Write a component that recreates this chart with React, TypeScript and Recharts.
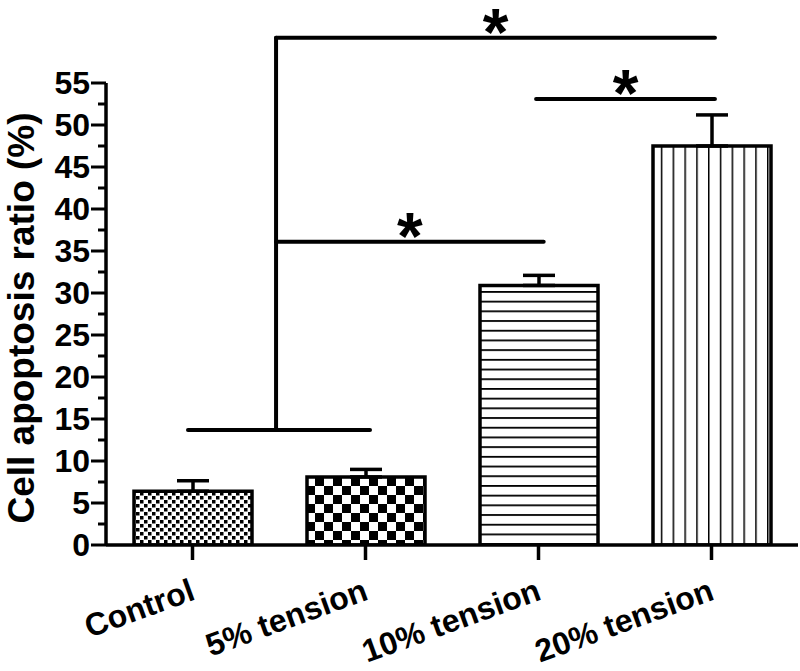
import { BarChart, Bar, XAxis, YAxis, ErrorBar, ReferenceLine, Cell } from "recharts";

const groups = ["Control", "5% tension", "10% tension", "20% tension"];
const groupPos = [0, 1, 2, 3];
const apoptosis = [6.4, 8.1, 30.9, 47.5];
const sem = [1.25, 0.9, 1.2, 3.7];
const fills = ["fineCheck", "coarseCheck", "hLines", "vLines"];
const yTicks = [0, 2.5, 5, 7.5, 10, 12.5, 15, 17.5, 20, 22.5, 25, 27.5, 30, 32.5, 35, 37.5, 40, 42.5, 45, 47.5, 50, 52.5, 55];

// significance brackets, in data units (x = group index, y = %)
const bracketX1 = [-0.026, 0.483, 0.483, 1.986, 0.483];
const bracketX2 = [1.026, 0.483, 3.02, 3.02, 2.03];
const bracketY1 = [13.7, 13.7, 60.4, 53.1, 36.1];
const bracketY2 = [13.7, 60.4, 60.4, 53.1, 36.1];
const bracketStar = [false, false, true, true, true];

const FONT = "'Liberation Sans', Arial, sans-serif";

const data = groupPos.map((x, i) => ({
  x,
  name: groups[i],
  value: apoptosis[i],
  err: [0, sem[i]],
}));

function YTick(props: any) {
  const { x, y, payload } = props;
  const major = payload.value % 5 === 0;
  return (
    <g>
      <line x1={x - (major ? 15 : 8)} x2={x} y1={y} y2={y} stroke="#000" strokeWidth={3} />
      {major && (
        <text x={x - 16} y={y} dy={11} textAnchor="end" fontSize={32} fontWeight="bold" fontFamily={FONT} fill="#000">
          {payload.value}
        </text>
      )}
    </g>
  );
}

function XTick(props: any) {
  const { x, y, payload } = props;
  const tx = x + 4;
  const ty = y + 54;
  return (
    <g>
      <line x1={x} x2={x} y1={y} y2={y + 15} stroke="#000" strokeWidth={3.5} />
      <text x={tx} y={ty} transform={`rotate(-20, ${tx}, ${ty})`} textAnchor="end" fontSize={32} fontWeight="bold" fontFamily={FONT} fill="#000">
        {groups[payload.value]}
      </text>
    </g>
  );
}

function yTitle(props: any) {
  const vb = props.viewBox;
  const cx = 34;
  const cy = vb.y + vb.height / 2 + 4;
  return (
    <text x={cx} y={cy} transform={`rotate(-90, ${cx}, ${cy})`} textAnchor="middle" fontSize={37} fontWeight="bold" fontFamily={FONT} fill="#000">
      Cell apoptosis ratio (%)
    </text>
  );
}

function star(props: any) {
  const vb = props.viewBox;
  return (
    <text x={vb.x + vb.width / 2} y={vb.y + 17} textAnchor="middle" fontSize={66} fontWeight="bold" fontFamily={FONT} fill="#000">
      *
    </text>
  );
}

export default function App() {
  return (
    <div style={{ position: "absolute", left: 0, top: 0, width: 800, height: 671, background: "#fff" }}>
      <BarChart width={800} height={671} data={data} margin={{ top: 83, right: 2, bottom: 125, left: 105 }}>
        <defs>
          <pattern id="fineCheck" width="8" height="8" patternUnits="userSpaceOnUse">
            <rect width="8" height="8" fill="#fff" />
            <rect width="3.5" height="3.5" fill="#000" />
            <rect x="4" y="4" width="3.5" height="3.5" fill="#000" />
          </pattern>
          <pattern id="coarseCheck" width="18" height="18" patternUnits="userSpaceOnUse">
            <rect width="18" height="18" fill="#fff" />
            <rect width="9" height="9" fill="#000" />
            <rect x="9" y="9" width="9" height="9" fill="#000" />
          </pattern>
          <pattern id="hLines" width="10" height="9.7" patternUnits="userSpaceOnUse">
            <rect width="10" height="9.7" fill="#fff" />
            <rect width="10" height="1.8" fill="#000" />
          </pattern>
          <pattern id="vLines" width="11.8" height="10" patternUnits="userSpaceOnUse">
            <rect width="11.8" height="10" fill="#fff" />
            <rect width="1.5" height="10" fill="#000" />
          </pattern>
        </defs>
        <XAxis
          type="number"
          dataKey="x"
          domain={[-0.5, 3.5]}
          ticks={groupPos}
          interval={0}
          allowDataOverflow
          height={1}
          tickSize={0}
          tickMargin={0}
          tickLine={false}
          axisLine={{ stroke: "#000", strokeWidth: 3.5 }}
          tick={<XTick />}
        />
        <YAxis
          type="number"
          domain={[0, 55]}
          ticks={yTicks}
          interval={0}
          allowDataOverflow
          width={1}
          tickSize={0}
          tickMargin={0}
          tickLine={false}
          axisLine={{ stroke: "#000", strokeWidth: 3.5 }}
          tick={<YTick />}
          label={yTitle}
        />
        <Bar dataKey="value" barSize={118} stroke="#000" strokeWidth={3.5} isAnimationActive={false}>
          {data.map((d, i) => (
            <Cell key={d.name} fill={`url(#${fills[i]})`} />
          ))}
          <ErrorBar dataKey="err" direction="y" width={16} stroke="#000" strokeWidth={3.5} isAnimationActive={false} />
        </Bar>
        {bracketX1.map((x1, i) => (
          <ReferenceLine
            key={i}
            segment={[
              { x: x1, y: bracketY1[i] },
              { x: bracketX2[i], y: bracketY2[i] },
            ]}
            ifOverflow="visible"
            stroke="#000"
            strokeWidth={4}
            strokeLinecap="round"
            label={bracketStar[i] ? star : undefined}
          />
        ))}
      </BarChart>
    </div>
  );
}
